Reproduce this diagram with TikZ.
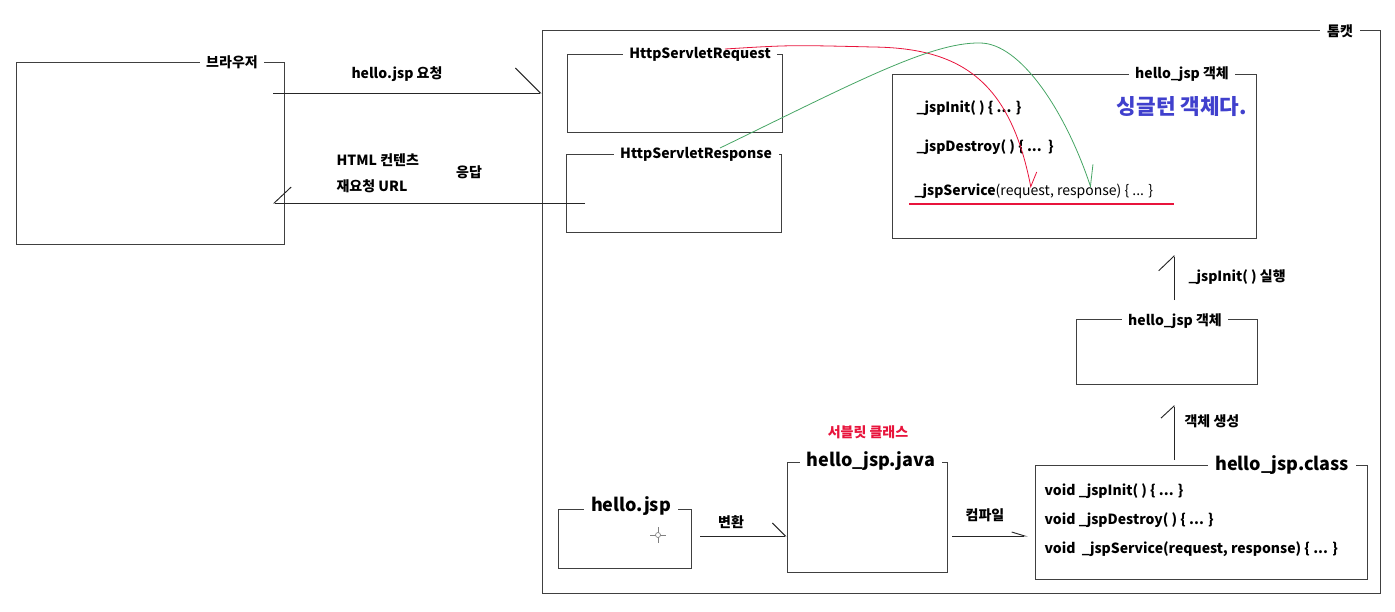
\documentclass[tikz,border=0pt]{standalone}
\usepackage{fontspec}
\setmainfont{Noto Sans CJK KR}
\usetikzlibrary{arrows.meta,fit}
\definecolor{mred}{RGB}{232,20,60}
\definecolor{mblue}{RGB}{64,64,205}
\definecolor{mgreen}{RGB}{70,165,100}
\newcommand\lblfont{\fontsize{10.5}{12}\selectfont\bfseries}
\newcommand\bigfont{\fontsize{13.5}{16}\selectfont\bfseries}
\tikzset{
  box/.style={draw=black!75,line width=0.75pt,inner sep=0pt},
  ttl/.style={fill=white,inner xsep=5pt,inner ysep=1pt,font=\lblfont},
  bigttl/.style={ttl,font=\bigfont},
  lbl/.style={inner sep=1pt,font=\lblfont},
  conn/.style={draw=black!85,line width=0.7pt},
  hh/.style 2 args={-{Straight Barb[harpoon,length=#1,width=#2]}},
  hhs/.style 2 args={-{Straight Barb[harpoon,swap,length=#1,width=#2]}}
}
\begin{document}
\begin{tikzpicture}[x=0.75pt,y=-0.75pt]
  \useasboundingbox (0,0) rectangle (1395,611);
  \node[box,fit={(542,30)(1380,593)}] (tomcat) {};
  \node[box,fit={(16,62)(284,244)}] (browser) {};
  \node[box,fit={(567,54)(782,132)}] (reqbox) {};
  \node[box,fit={(566,154)(781,232)}] (resbox) {};
  \node[box,fit={(892,74)(1256,238)}] (jspobj) {};
  \node[box,fit={(1076,319)(1257,384)}] (jspnew) {};
  \node[box,fit={(558,509)(691,568)}] (jspfile) {};
  \node[box,fit={(787,462)(947,572)}] (javafile) {};
  \node[box,fit={(1035,465)(1367,579)}] (classfile) {};
  \node[ttl] (tTomcat) at (1340,31) {톰캣};
  \node[ttl] (tBrowser) at (232,62) {브라우저};
  \node[ttl] (tReq) at (700,54) {HttpServletRequest};
  \node[ttl] (tRes) at (696,154) {HttpServletResponse};
  \node[ttl] (tObj) at (1182,74) {hello\_jsp 객체};
  \node[ttl] (tNew) at (1175,321) {hello\_jsp 객체};
  \node[bigttl] (tJsp) at (631,506) {hello.jsp};
  \node[bigttl] (tJava) at (871,461) {hello\_jsp.java};
  \node[bigttl,anchor=east] (tClass) at (1356,465) {hello\_jsp.class};
  % methods of the object
  \node[lbl,anchor=west] (mInit) at (915,108) {\_jspInit( ) \{ ... \}};
  \node[lbl,anchor=west] (mDestroy) at (915,147) {\_jspDestroy( ) \{ ...~~\}};
  \node[lbl,anchor=west] (mService) at (913,191) {\_jspService{\mdseries(request, response) \{ ... \}}};
  \draw[mred,line width=1.5pt] (909,204) -- (1174,204);
  \node[font=\fontsize{16}{18}\selectfont\bfseries,text=mblue] (single) at (1182,107) {싱글턴 객체다.};
  \foreach \y/\txt [count=\i] in {491/{void \_jspInit( ) \{ ... \}},
      520/{void \_jspDestroy( ) \{ ... \}},
      549/{void~~\_jspService(request, response) \{ ... \}}}
    \node[lbl,anchor=west] (cm\i) at (1043,\y) {\txt};
  \node[lbl,text=mred] (servlet) at (868,432) {서블릿 클래스};
  % labels
  \node[lbl] (lReq) at (397,74) {hello.jsp 요청};
  \node[lbl,anchor=west] (lHtml) at (335,160) {HTML 컨텐츠};
  \node[lbl,anchor=west] (lUrl) at (335,186) {재요청 URL};
  \node[lbl] (lRes) at (469,172) {응답};
  \node[lbl,anchor=west] (lInit) at (1187,277) {\_jspInit( ) 실행};
  \node[lbl,anchor=west] (lNew) at (1183,421) {객체 생성};
  \node[lbl] (lConv) at (731,522) {변환};
  \node[lbl] (lComp) at (985,515) {컴파일};
  % connectors
  \coordinate (reqFrom) at (273,93);
  \coordinate (resFrom) at (585,203);
  \coordinate (initFrom) at (1174,300);
  \coordinate (initTo) at (1174,255);
  \coordinate (newFrom) at (1174,460);
  \coordinate (newTo) at (1174,405);
  \coordinate (convFrom) at (700,536);
  \coordinate (compFrom) at (952,536);
  \draw[conn,hh={18.75pt}{37.5pt}] (reqFrom) -- (reqFrom -| tomcat.west);
  \draw[conn,hhs={12.75pt}{24pt}] (resFrom) -- (resFrom -| reqFrom);
  \draw[conn,hh={11pt}{23pt}] (initFrom) -- (initTo);
  \draw[conn,hh={9pt}{19.5pt}] (newFrom) -- (newTo);
  \draw[conn,hh={9.75pt}{19.5pt}] (convFrom) -- (convFrom -| javafile.west);
  \draw[conn,hh={9.75pt}{6pt}] (compFrom) -- ([xshift=-5pt]compFrom -| classfile.west);
  % request / response handed to _jspService
  \coordinate (redFrom) at (725,49);
  \coordinate (redTo) at (1031,188);
  \coordinate (greenFrom) at (720,148);
  \coordinate (greenTo) at (1091,188);
  \draw[mred,line width=0.6pt,hh={10pt}{13pt}] (redFrom) .. controls (790,45) .. (873,47)
    .. controls (960,48) and (1010,80) .. (redTo);
  \draw[mgreen,line width=0.6pt,hh={15pt}{14pt}] (greenFrom) .. controls (850,85) and (930,42) .. (980,43)
    .. controls (1020,43) and (1065,110) .. (greenTo);
  % cursor mark
  \draw[gray,line width=0.5pt] (650,535) -- (666,535) (658,527) -- (658,543);
  \draw[gray,fill=white,line width=0.5pt] (658,535) circle (2.5);
\end{tikzpicture}
\end{document}
